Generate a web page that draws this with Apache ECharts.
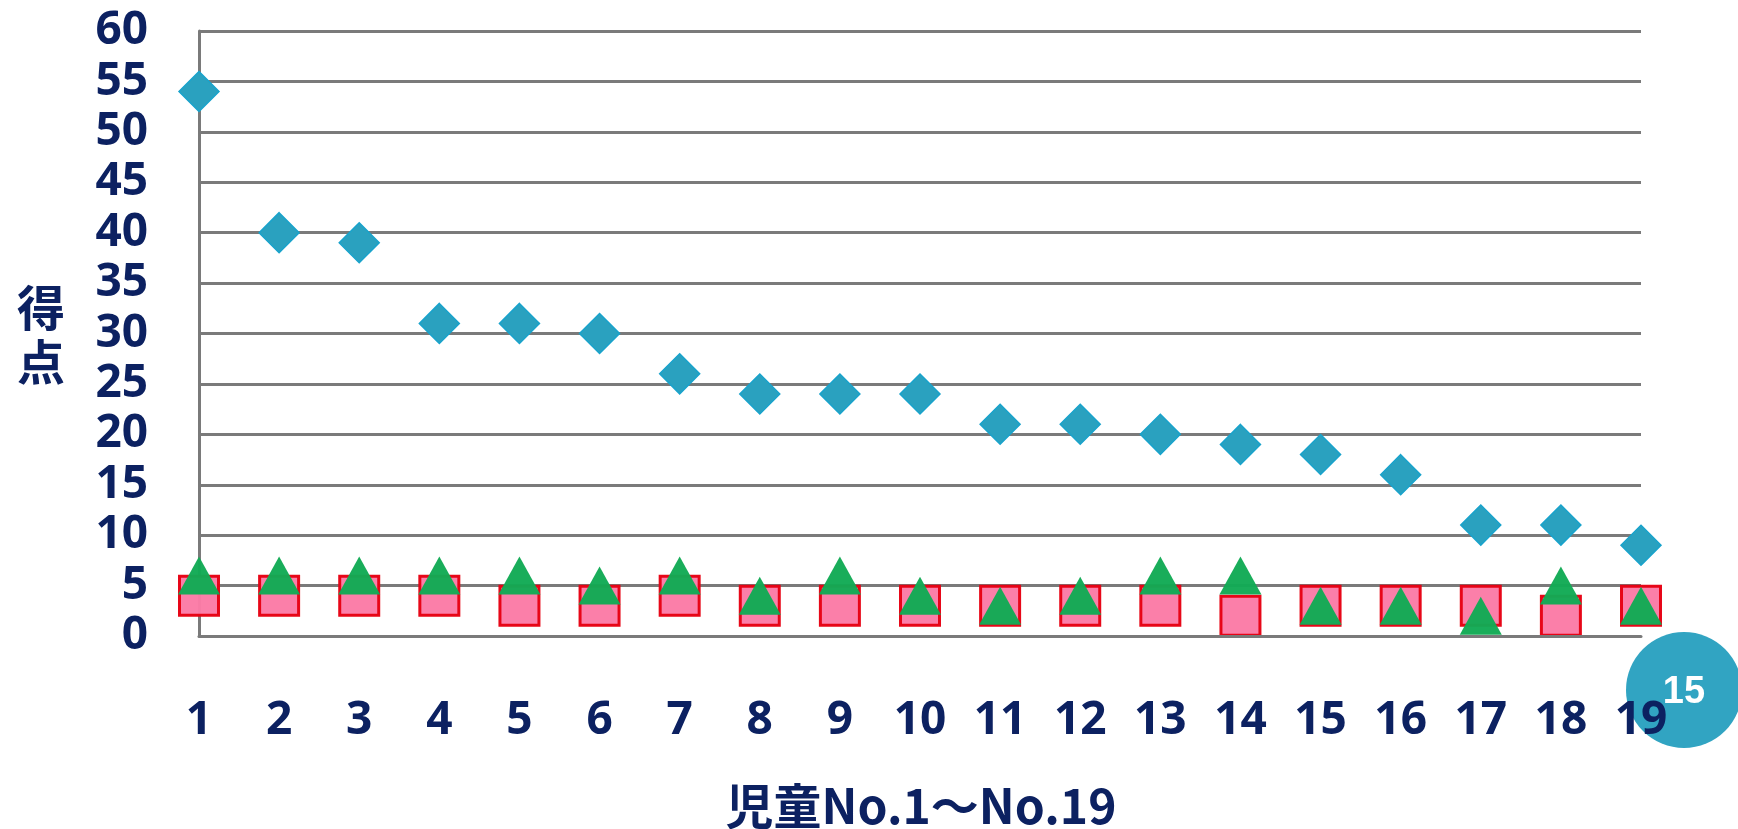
<!DOCTYPE html>
<html>
<head>
<meta charset="utf-8">
<script src="https://cdn.jsdelivr.net/npm/echarts@6/dist/echarts.min.js"></script>
<style>
  html, body { margin: 0; padding: 0; background: #ffffff; }
  #chart { width: 1738px; height: 829px; }
</style>
</head>
<body>
<div id="chart"></div>
<script>
// Student numbers 1..19
const students = ['1','2','3','4','5','6','7','8','9','10','11','12','13','14','15','16','17','18','19'];
// Scores per student for the three measures
const diamondScores = [54, 40, 39, 31, 31, 30, 26, 24, 24, 24, 21, 21, 20, 19, 18, 16, 11, 11, 9];
const squareScores  = [4, 4, 4, 4, 3, 3, 4, 3, 3, 3, 3, 3, 3, 2, 3, 3, 3, 2, 3];
const triangleScores = [6, 6, 6, 6, 6, 5, 6, 4, 6, 4, 3, 4, 6, 6, 3, 3, 2, 5, 3];
// Value axis range
const yMin = 0, yMax = 60, yStep = 5;

const navy = '#0c2161';
const gridGray = '#7a7a7a';
const numFont = '"Noto Sans", "Open Sans", sans-serif';
const cjkFont = '"Noto Sans CJK JP", "Noto Sans", sans-serif';

const chart = echarts.init(document.getElementById('chart'), null, { renderer: 'canvas' });

chart.setOption({
  animation: false,
  backgroundColor: '#ffffff',
  grid: { left: 199, right: 97, top: 31, bottom: 193, containLabel: false },
  xAxis: {
    type: 'category',
    data: students,
    boundaryGap: false,
    z: 5,
    axisLine: { show: true, lineStyle: { color: gridGray, width: 3 } },
    axisTick: { show: false },
    splitLine: { show: false },
    axisLabel: {
      color: navy, fontSize: 46, fontWeight: 'bold', fontFamily: numFont,
      margin: 62, interval: 0
    }
  },
  yAxis: {
    type: 'value',
    min: yMin, max: yMax, interval: yStep,
    axisLine: { show: true, lineStyle: { color: gridGray, width: 3 } },
    axisTick: { show: false },
    splitLine: { show: true, lineStyle: { color: gridGray, width: 3 } },
    axisLabel: {
      color: navy, fontSize: 46, fontWeight: 'bold', fontFamily: numFont,
      margin: 51
    }
  },
  series: [
    {
      name: 'square',
      type: 'scatter',
      data: squareScores,
      symbol: 'rect',
      symbolSize: 39,
      z: 2,
      itemStyle: { color: '#fb7ba6', borderColor: '#e60012', borderWidth: 3, opacity: 0.97 }
    },
    {
      name: 'triangle',
      type: 'scatter',
      data: triangleScores,
      symbol: 'triangle',
      symbolSize: [42, 38],
      z: 3,
      itemStyle: { color: '#12aa55', opacity: 0.97 }
    },
    {
      name: 'diamond',
      type: 'scatter',
      data: diamondScores,
      symbol: 'diamond',
      symbolSize: 40,
      z: 4,
      itemStyle: { color: '#2aa1bf', borderColor: '#18a3cc', borderWidth: 1.5, opacity: 1 }
    }
  ],
  graphic: [
    {
      type: 'text',
      left: 17, top: 281,
      style: {
        text: '得\n点', fill: navy, font: 'bold 48px ' + cjkFont,
        lineHeight: 54, align: 'left'
      }
    },
    {
      type: 'text',
      x: 921, y: 806,
      style: {
        text: '児童No.1～No.19', fill: navy, font: 'bold 48px ' + cjkFont,
        align: 'center', verticalAlign: 'middle'
      }
    },
    {
      type: 'circle',
      z: -1,
      shape: { cx: 1684, cy: 690, r: 58 },
      style: { fill: '#31a4c2' }
    },
    {
      type: 'text',
      z: -1,
      x: 1684, y: 693,
      style: {
        text: '15', fill: '#ffffff', font: 'bold 38px "Liberation Sans", Arial, sans-serif',
        align: 'center', verticalAlign: 'middle'
      }
    }
  ]
});
</script>
</body>
</html>
